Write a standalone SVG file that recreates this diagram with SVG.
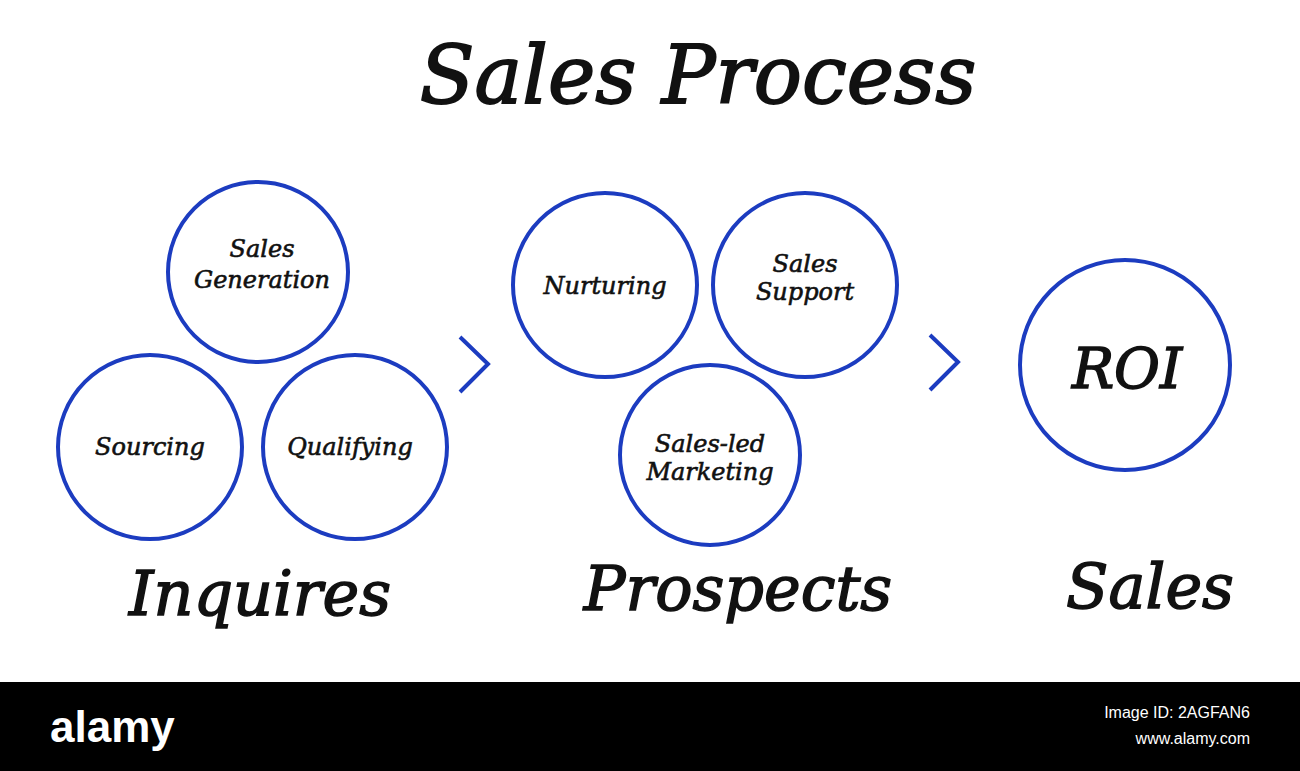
<svg xmlns="http://www.w3.org/2000/svg" width="1300" height="771" viewBox="0 0 1300 771">
<style>
.c{fill:none;stroke:#1c3cc0;stroke-width:4}
.t{font-family:"DejaVu Serif",serif;font-style:italic;fill:#111;text-anchor:middle;stroke:#111;stroke-width:0.6}
.s{font-size:24px}
.b{font-size:62px;stroke-width:1.5}
</style>
<rect width="1300" height="771" fill="#fff"/>
<text class="t" x="698" y="103" style="font-size:80px;stroke-width:1.8">Sales Process</text>
<g id="sales-generation"><circle class="c" cx="258" cy="272" r="90"/><text class="t s" x="262" y="257">Sales</text><text class="t s" x="262" y="288">Generation</text></g>
<g id="sourcing"><circle class="c" cx="150" cy="447" r="92"/><text class="t s" x="150" y="455">Sourcing</text></g>
<g id="qualifying"><circle class="c" cx="355" cy="447" r="92"/><text class="t s" x="350" y="455">Qualifying</text></g>
<g id="nurturing"><circle class="c" cx="605" cy="285" r="92"/><text class="t s" x="605" y="294">Nurturing</text></g>
<g id="sales-support"><circle class="c" cx="805" cy="285" r="92"/><text class="t s" x="805" y="272">Sales</text><text class="t s" x="805" y="300">Support</text></g>
<g id="sales-led-marketing"><circle class="c" cx="710" cy="455" r="90"/><text class="t s" x="710" y="452">Sales-led</text><text class="t s" x="710" y="480">Marketing</text></g>
<g id="roi"><circle class="c" cx="1125" cy="365" r="105"/><text class="t" x="1127" y="388" style="font-size:56px;stroke-width:1.5">ROI</text></g>
<g id="connectors"><polyline class="c" points="460,337 488,364 460,392"/><polyline class="c" points="930,335 958,362 930,390"/></g>
<text class="t b" x="260" y="615">Inquires</text>
<text class="t b" x="738" y="610">Prospects</text>
<text class="t b" x="1150" y="608">Sales</text>
<rect y="682" width="1300" height="89" fill="#000"/>
<text x="50" y="742" style="font-family:'Liberation Sans',sans-serif;font-size:44px;font-weight:bold;fill:#fff">alamy</text>
<text x="1250" y="718" text-anchor="end" style="font-family:'Liberation Sans',sans-serif;font-size:16px;fill:#fff">Image ID: 2AGFAN6</text>
<text x="1250" y="744" text-anchor="end" style="font-family:'Liberation Sans',sans-serif;font-size:16px;fill:#fff">www.alamy.com</text>
</svg>
